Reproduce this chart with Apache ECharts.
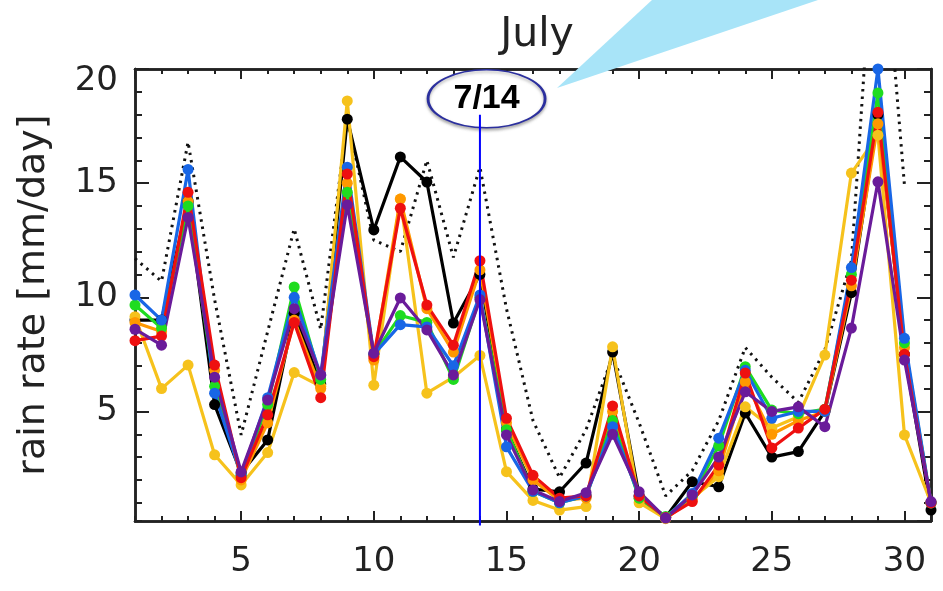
<!DOCTYPE html>
<html>
<head>
<meta charset="utf-8">
<script src="https://cdn.jsdelivr.net/npm/echarts@6/dist/echarts.min.js"></script>
<style>html,body{margin:0;padding:0;background:#fff;}#c{width:943px;height:591px;}</style>
</head>
<body>
<div id="c"></div>
<script>
const days = [1,2,3,4,5,6,7,8,9,10,11,12,13,14,15,16,17,18,19,20,21,22,23,24,25,26,27,28,29,30,31];
const xRange = [1, 31];
const yRange = [0.2, 20];

const dottedRain = [11.7,10.7,16.8,9.9,3.97,8.5,13.0,8.6,17.8,12.5,12.0,16.0,11.75,15.7,9.5,4.6,2.1,4.2,7.4,4.5,1.3,2.4,4.6,7.8,6.5,5.4,7.7,11.6,29.0,14.9,null];
const blackRain  = [9.0,9.0,14.2,5.3,2.3,3.75,9.3,6.2,17.8,12.95,16.15,15.05,8.87,11.0,4.2,1.6,1.48,2.74,7.6,1.3,0.35,1.92,1.7,4.93,3.0,3.24,5.0,10.2,18.0,7.5,0.68];
const yellowRain = [9.15,6.0,7.03,3.1,1.78,3.2,6.7,6.1,18.6,6.15,14.3,5.8,6.5,7.45,2.36,1.1,0.68,0.83,7.83,1.0,0.3,1.2,2.14,5.2,4.27,4.77,7.47,15.44,17.1,3.97,1.0];
const orangeRain = [8.9,8.5,14.2,6.8,2.0,4.5,9.0,6.0,15.0,7.25,14.3,9.5,7.6,11.2,4.5,2.0,1.1,1.2,5.0,1.2,0.35,1.1,2.4,6.3,4.0,4.6,5.0,10.5,17.6,7.8,1.0];
const greenRain  = [9.66,8.65,14.0,6.1,2.2,5.3,10.45,6.4,14.6,7.5,9.2,8.9,6.4,10.0,4.2,1.5,1.0,1.3,4.6,1.2,0.4,1.3,3.5,6.96,5.06,4.9,5.1,11.0,18.95,8.0,1.0];
const blueRain   = [10.1,9.0,15.6,5.8,2.2,5.6,10.0,6.6,15.7,7.5,8.8,8.7,7.0,10.1,3.45,1.5,1.0,1.3,4.33,1.3,0.35,1.4,3.83,6.8,4.7,5.0,5.0,11.3,20.0,8.2,1.0];
const redRain    = [8.1,8.3,14.6,7.03,2.1,4.85,8.9,5.6,15.4,7.4,13.9,9.66,7.9,11.6,4.7,2.2,1.2,1.3,5.24,1.3,0.35,1.05,2.65,6.68,3.4,4.27,5.1,10.75,18.1,7.5,1.0];
const purpleRain = [8.6,7.9,13.5,6.5,2.35,5.5,9.5,6.6,14.05,7.55,9.97,8.57,6.6,9.9,3.97,1.56,1.05,1.44,4.0,1.48,0.33,1.34,3.0,5.86,5.0,5.2,4.33,8.65,15.06,7.25,1.05];

const markDay = 14;
const markText = '7/14';
const markLineTop = 18.0;

const pairs = arr => days.map((d,i) => [d, arr[i]]);

const axisColor = '#222';
const font = 'DejaVu Sans';

function solid(name, arr, color) {
  return {
    name, type: 'line', data: pairs(arr), xAxisIndex: 0, yAxisIndex: 0,
    symbol: 'circle', symbolSize: 11, showSymbol: true,
    lineStyle: { color, width: 3.2 }, itemStyle: { color },
    emphasis: { disabled: true }, animation: false
  };
}

function xAx(position, major) {
  return {
    type: 'value', min: xRange[0], max: xRange[1], gridIndex: 0, position,
    splitNumber: major ? 6 : 30,
    splitLine: { show: false },
    axisLine: { show: true, onZero: false, lineStyle: { color: axisColor, width: 2.5 } },
    axisTick: { show: true, inside: true, length: major ? 10 : 5, lineStyle: { color: axisColor, width: 2 } },
    axisLabel: (major && position === 'bottom')
      ? { show: true, showMinLabel: false, showMaxLabel: false, margin: 24, fontFamily: font, fontSize: 34, color: axisColor }
      : { show: false }
  };
}
function yAx(position, major) {
  const ax = {
    type: 'value', min: yRange[0], max: yRange[1], gridIndex: 0, position,
    splitNumber: major ? 4 : 20,
    splitLine: { show: false },
    axisLine: { show: true, onZero: false, lineStyle: { color: axisColor, width: 2.5 } },
    axisTick: { show: true, inside: true, length: major ? 14 : 7, lineStyle: { color: axisColor, width: 2 } },
    axisLabel: { show: false }
  };
  if (major && position === 'left') {
    ax.name = 'rain rate [mm/day]';
    ax.nameLocation = 'middle';
    ax.nameGap = 82;
    ax.nameTextStyle = { fontFamily: font, fontSize: 38, color: axisColor };
    ax.axisLabel = {
      show: true, showMinLabel: false, margin: 17, fontFamily: font, fontSize: 34, color: axisColor,
      formatter: v => (v === 20 ? '{t|20}' : String(v)),
      rich: { t: { fontFamily: font, fontSize: 34, color: axisColor, padding: [24, 0, 0, 0] } }
    };
  }
  return ax;
}

const chart = echarts.init(document.getElementById('c'));
chart.setOption({
  animation: false,
  backgroundColor: '#fff',
  title: {
    text: 'July', left: 532, top: 10, textAlign: 'center',
    textStyle: { fontFamily: font, fontSize: 41, fontWeight: 'normal', color: axisColor }
  },
  grid: { left: 135, right: 12, top: 69, bottom: 70 },
  xAxis: [xAx('bottom', true), xAx('bottom', false), xAx('top', true), xAx('top', false)],
  yAxis: [yAx('left', true), yAx('left', false), yAx('right', true), yAx('right', false)],
  graphic: [
    {
      type: 'polygon', z: 1,
      shape: { points: [[557, 88], [652, 0], [818, 0]] },
      style: { fill: '#a8e4f8' }
    }
  ],
  series: [
    {
      name: 'dotted', type: 'line', data: pairs(dottedRain), xAxisIndex: 0, yAxisIndex: 0,
      symbol: 'none', connectNulls: false,
      lineStyle: { color: '#111', width: 3, type: [2.5, 5] },
      emphasis: { disabled: true }, animation: false
    },
    solid('black', blackRain, '#000000'),
    solid('yellow', yellowRain, '#f6c21c'),
    solid('orange', orangeRain, '#ff9800'),
    solid('green', greenRain, '#1fdc1f'),
    solid('blue', blueRain, '#1866e6'),
    solid('red', redRain, '#ee1010'),
    solid('purple', purpleRain, '#6a1b9a'),
    {
      name: 'marker', type: 'line', xAxisIndex: 0, yAxisIndex: 0, z: 10,
      data: [[markDay, markLineTop], [markDay, yRange[0] - 0.2]],
      clip: false, symbol: 'none',
      lineStyle: { color: '#0000ff', width: 2 },
      emphasis: { disabled: true }, animation: false,
      markPoint: {
        silent: true, animation: false,
        symbol: 'circle', symbolSize: [117, 58],
        itemStyle: { color: '#ffffff', borderColor: '#2b2f9e', borderWidth: 2, shadowColor: 'rgba(120,120,120,0.6)', shadowBlur: 3, shadowOffsetY: 2 },
        label: { show: true, formatter: markText, fontFamily: 'Liberation Sans', fontWeight: 'bold', fontSize: 34, color: '#000' },
        data: [{ coord: [markDay + 0.25, 18.7] }]
      }
    }
  ]
});
</script>
</body>
</html>
